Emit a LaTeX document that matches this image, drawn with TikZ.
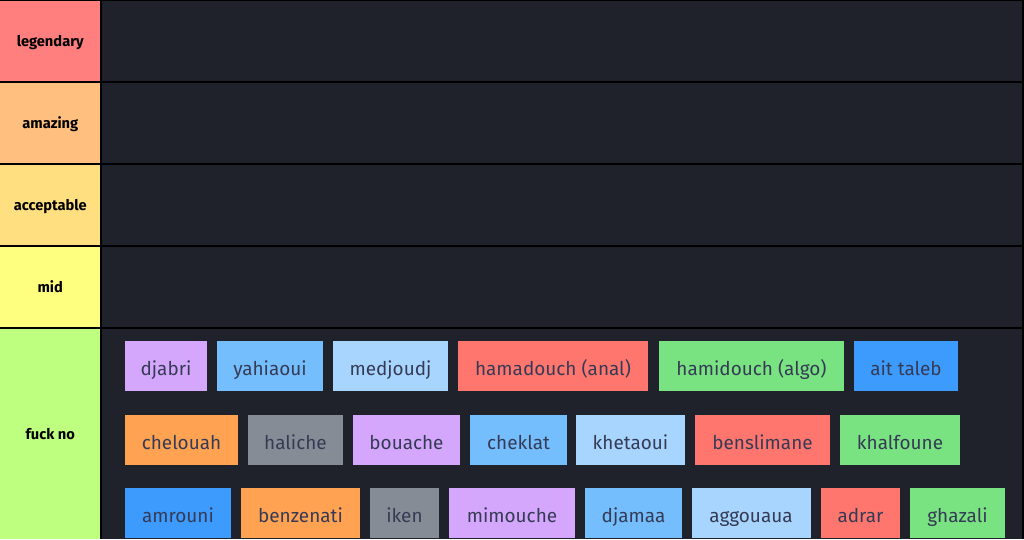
\documentclass[tikz,border=0pt]{standalone}
\usepackage{fontspec}
\setmainfont{Fira Sans}
\definecolor{bgdark}{HTML}{1F222A}
\definecolor{tS}{HTML}{FF7F7F}
\definecolor{tA}{HTML}{FFBF7F}
\definecolor{tB}{HTML}{FFDF7F}
\definecolor{tC}{HTML}{FFFF7F}
\definecolor{tD}{HTML}{BFFF7F}
\definecolor{cpurple}{HTML}{D4A7FC}
\definecolor{cblue}{HTML}{74BEFD}
\definecolor{clblue}{HTML}{A8D5FE}
\definecolor{cred}{HTML}{FF766F}
\definecolor{cgreen}{HTML}{79E382}
\definecolor{cdblue}{HTML}{3D9BFE}
\definecolor{corange}{HTML}{FFA353}
\definecolor{cgray}{HTML}{868C95}
\definecolor{itemtext}{HTML}{363B55}
\begin{document}
\begin{tikzpicture}[x=0.75pt,y=-0.75pt,
  tierlabel/.style={rectangle,inner sep=0pt,minimum width=75pt,anchor=west,text height=8.6pt,text depth=0pt,font=\fontsize{11}{13}\selectfont\bfseries,text=black},
  itembox/.style={rectangle,inner sep=0pt,minimum height=37.5pt,text height=14.6pt,text depth=0pt,text=itemtext,font=\fontsize{14.2}{17}\selectfont},
  w/.style={minimum width=#1*0.75pt},
  h/.style={minimum height=#1*0.75pt}]
\fill[black] (0,0) rectangle (1024,539);
\useasboundingbox (0,0) rectangle (1024,539);
% tier labels
\node[tierlabel,fill=tS,h=80] (lS) at (0,41) {legendary};
\node[tierlabel,fill=tA,h=80] (lA) at (0,123) {amazing};
\node[tierlabel,fill=tB,h=80] (lB) at (0,205) {acceptable};
\node[tierlabel,fill=tC,h=80] (lC) at (0,287) {mid};
\node[tierlabel,fill=tD,h=210] (lD) at (0,434) {fuck no};
% dark panels
\fill[bgdark] (102,1) rectangle (1022,81);
\fill[bgdark] (102,83) rectangle (1022,163);
\fill[bgdark] (102,165) rectangle (1022,245);
\fill[bgdark] (102,247) rectangle (1022,327);
\fill[bgdark] (102,329) rectangle (1022,539);
% row 1
\node[itembox,fill=cpurple,w=82] (i1) at (166,366) {djabri};
\node[itembox,fill=cblue,w=106] (i2) at (270,366) {yahiaoui};
\node[itembox,fill=clblue,w=115] (i3) at (390.5,366) {medjoudj};
\node[itembox,fill=cred,w=190] (i4) at (553,366) {hamadouch (anal)};
\node[itembox,fill=cgreen,w=185] (i5) at (751.5,366) {hamidouch (algo)};
\node[itembox,fill=cdblue,w=104] (i6) at (906,366) {ait taleb};
% row 2
\node[itembox,fill=corange,w=113] (j1) at (181.5,439.5) {chelouah};
\node[itembox,fill=cgray,w=95] (j2) at (295.5,439.5) {haliche};
\node[itembox,fill=cpurple,w=107] (j3) at (406.5,439.5) {bouache};
\node[itembox,fill=cblue,w=97] (j4) at (518.5,439.5) {cheklat};
\node[itembox,fill=clblue,w=109] (j5) at (630.5,439.5) {khetaoui};
\node[itembox,fill=cred,w=135] (j6) at (762.5,439.5) {benslimane};
\node[itembox,fill=cgreen,w=120] (j7) at (900,439.5) {khalfoune};
% row 3
\node[itembox,fill=cdblue,w=106] (k1) at (178,513) {amrouni};
\node[itembox,fill=corange,w=119] (k2) at (300.5,513) {benzenati};
\node[itembox,fill=cgray,w=69] (k3) at (404.5,513) {iken};
\node[itembox,fill=cpurple,w=126] (k4) at (512,513) {mimouche};
\node[itembox,fill=cblue,w=97] (k5) at (633.5,513) {djamaa};
\node[itembox,fill=clblue,w=119] (k6) at (751,513) {aggouaua};
\node[itembox,fill=cred,w=79] (k7) at (860.5,513) {adrar};
\node[itembox,fill=cgreen,w=95] (k8) at (957.5,513) {ghazali};
\end{tikzpicture}
\end{document}
